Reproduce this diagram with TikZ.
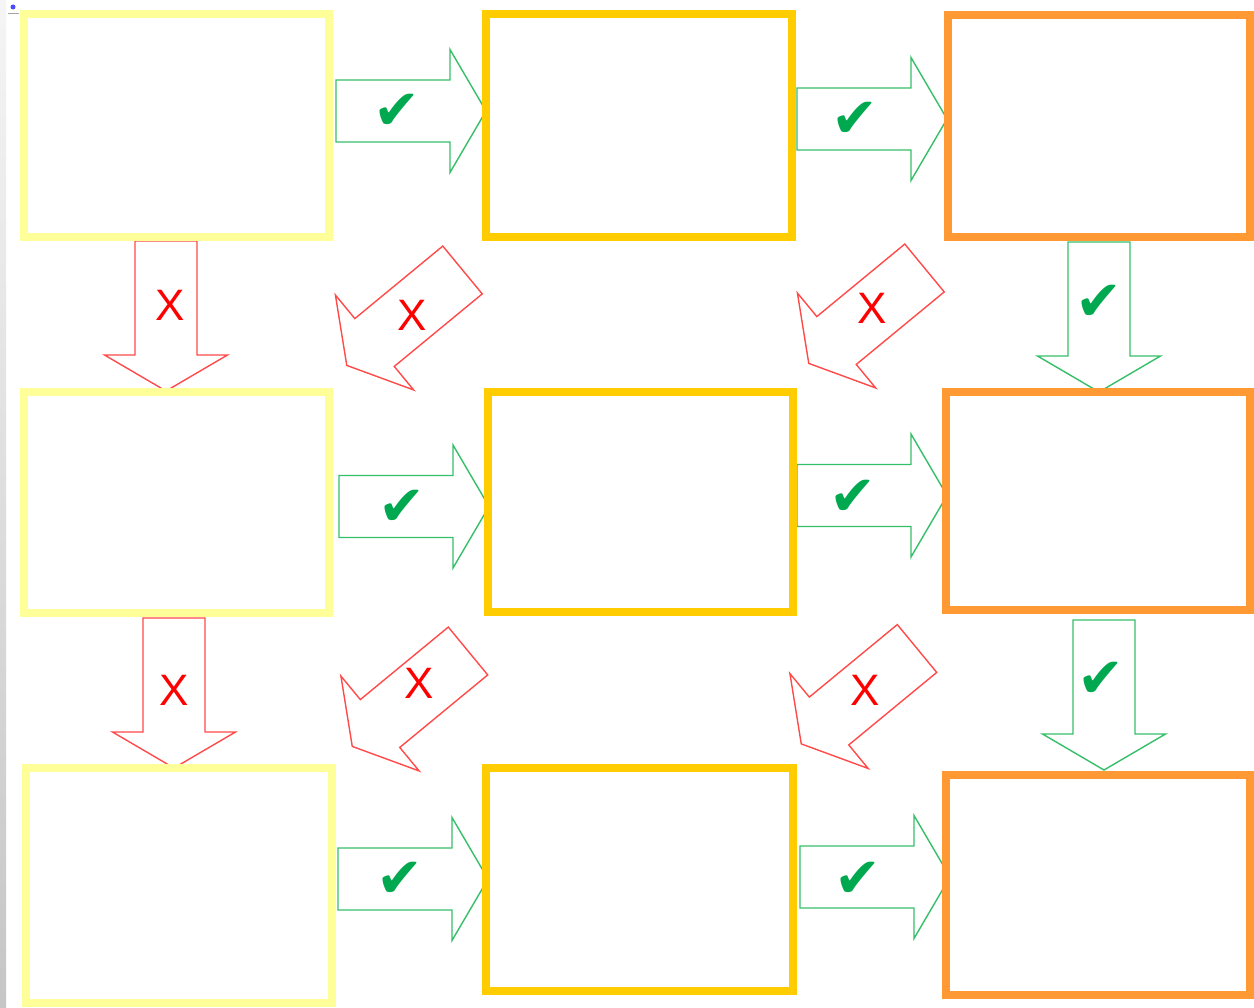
\documentclass[tikz,border=0pt]{standalone}
\usepackage{fontspec}
\setmainfont{Liberation Sans}
\newfontfamily\symfont{DejaVu Sans}
\definecolor{boxyellow}{HTML}{FFFF99}
\definecolor{boxgold}{HTML}{FFCC00}
\definecolor{boxorange}{HTML}{FF9933}
\definecolor{arrowgreen}{HTML}{35BF68}
\definecolor{arrowred}{HTML}{FF4A4A}
\definecolor{checkgreen}{HTML}{00A94F}
\definecolor{crossred}{HTML}{FF0000}
\tikzset{
  pics/blockarrow/.style={code={
    \draw[pic actions] (0,-31) -- (114,-31) -- (114,-61.5) -- (150,0)
      -- (114,61.5) -- (114,31) -- (0,31) -- cycle;
  }},
  okarrow/.style={draw=arrowgreen, line width=1.4pt, fill=white},
  noarrow/.style={draw=arrowred, line width=1.4pt, fill=white},
  stage/.style={draw=#1, line width=8pt, fill=white, rectangle, inner sep=0pt, outer sep=0pt},
  okmark/.style={text=checkgreen, font=\symfont\fontsize{56}{56}\selectfont, inner sep=0pt},
  nomark/.style={text=crossred, font=\fontsize{44}{44}\selectfont, inner sep=0pt},
}
\begin{document}
\begin{tikzpicture}[x=1pt,y=-1pt]
\useasboundingbox (0,0) rectangle (1254,1008);
\fill[white] (0,0) rectangle (1254,1008);
\shade[top color=gray!8, bottom color=gray!45] (0,0) rectangle (6,1008);
\fill[blue!70] (13,7) circle (2.5);
\draw[gray!70, line width=0.8pt] (8,13) -- (19,13);

% block arrows (drawn under the boxes)
\pic[okarrow] at (336,111) {blockarrow};
\pic[okarrow] at (797,119) {blockarrow};
\pic[okarrow] at (339,506.5) {blockarrow};
\pic[okarrow] at (797,495.5) {blockarrow};
\pic[okarrow] at (338,879) {blockarrow};
\pic[okarrow] at (800,877) {blockarrow};
\pic[noarrow, rotate=-90] at (166,241) {blockarrow};
\pic[noarrow, rotate=-90] at (174,618) {blockarrow};
\pic[okarrow, rotate=-90] at (1099,242) {blockarrow};
\pic[okarrow, rotate=-90] at (1104,620) {blockarrow};
\pic[noarrow, rotate=219.5] at (462.5,270) {blockarrow};
\pic[noarrow, rotate=219.5] at (924.5,268) {blockarrow};
\pic[noarrow, rotate=219.5] at (468,651) {blockarrow};
\pic[noarrow, rotate=219.5] at (917,648.5) {blockarrow};

% stage boxes
\node[stage=boxyellow, minimum width=305pt, minimum height=223pt] (a1) at (176.5,125.5) {};
\node[stage=boxgold,   minimum width=306pt, minimum height=223pt] (b1) at (639,125.5) {};
\node[stage=boxorange, minimum width=302pt, minimum height=222pt] (c1) at (1099,126) {};
\node[stage=boxyellow, minimum width=305pt, minimum height=221pt] (a2) at (176.5,502.5) {};
\node[stage=boxgold,   minimum width=305pt, minimum height=220pt] (b2) at (640.5,502) {};
\node[stage=boxorange, minimum width=304pt, minimum height=218pt] (c2) at (1098,501) {};
\node[stage=boxyellow, minimum width=306pt, minimum height=235pt] (a3) at (179,885.5) {};
\node[stage=boxgold,   minimum width=307pt, minimum height=223pt] (b3) at (639.5,879.5) {};
\node[stage=boxorange, minimum width=304pt, minimum height=220pt] (c3) at (1098,885) {};

% labels
\node[okmark] (l1) at (397,112) {✔};
\node[okmark] (l2) at (855,120) {✔};
\node[okmark] (l3) at (402,508) {✔};
\node[okmark] (l4) at (853,498) {✔};
\node[okmark] (l5) at (400,880) {✔};
\node[okmark] (l6) at (858,880) {✔};
\node[okmark] (l7) at (1099,303) {✔};
\node[okmark] (l8) at (1101,680) {✔};
\node[nomark] (x1) at (170,305) {X};
\node[nomark] (x2) at (174,690) {X};
\node[nomark] (x3) at (412,315) {X};
\node[nomark] (x4) at (872,308) {X};
\node[nomark] (x5) at (419,683) {X};
\node[nomark] (x6) at (865,690) {X};
\end{tikzpicture}
\end{document}
